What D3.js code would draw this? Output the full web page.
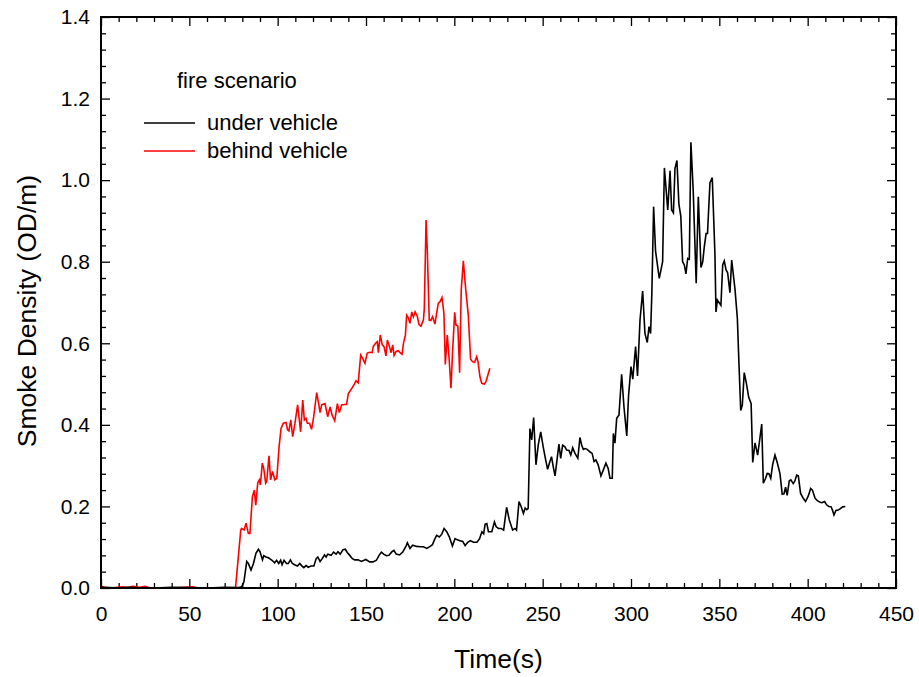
<!DOCTYPE html>
<html>
<head>
<meta charset="utf-8">
<script src="https://cdn.jsdelivr.net/npm/d3@7"></script>
<style>
  html, body { margin: 0; padding: 0; background: #fff; }
  svg { display: block; }
  text { font-family: "Liberation Sans", Arial, sans-serif; fill: #000; }
</style>
</head>
<body>
<svg id="chart" width="919" height="677"></svg>
<script>
// ---------------- data ----------------
const xMajorTicks = [0, 50, 100, 150, 200, 250, 300, 350, 400, 450];
const yMajorTicks = [0.0, 0.2, 0.4, 0.6, 0.8, 1.0, 1.2, 1.4];
const seriesNames = ["under vehicle", "behind vehicle"];
const seriesColors = ["#000000", "#ff0000"];
const legendTitle = "fire scenario";
const xTitle = "Time(s)";
const yTitle = "Smoke Density (OD/m)";

// under vehicle: [time (s), smoke density (OD/m)]
const underVehicle = [
  [0,0.002],[5,0.001],[10,0],[15,0.002],[20,0.001],[30,0],[40,0.002],[50,0.001],[60,0],[70,0.002],[78,0.001],
  [79.6,0.003],[80.9,0.015],[82.5,0.065],[83.4,0.060],[84.9,0.044],[86.3,0.060],[87.7,0.085],[89.1,0.095],
  [90.0,0.089],[91.4,0.069],[92.1,0.079],[93.4,0.076],[94.8,0.074],[96.8,0.068],[98.3,0.062],[99.4,0.068],
  [100.6,0.060],[101.7,0.068],[102.5,0.057],[103.6,0.068],[105.0,0.060],[106.0,0.060],[107.2,0.069],
  [108.3,0.060],[109.6,0.057],[111.2,0.054],[112.5,0.060],[113.5,0.055],[114.8,0.050],[116.1,0.055],
  [117.3,0.051],[118.8,0.054],[120.5,0.054],[121.8,0.072],[122.7,0.076],[124.0,0.065],[125.2,0.072],
  [126.5,0.081],[127.4,0.076],[128.4,0.083],[130.3,0.080],[131.6,0.088],[133.1,0.083],[134.1,0.089],
  [135.4,0.083],[137.0,0.094],[138.3,0.095],[139.4,0.087],[140.8,0.080],[142.3,0.072],[143.6,0.069],
  [145.5,0.069],[147.4,0.065],[149.9,0.070],[152.1,0.064],[154.0,0.064],[155.9,0.068],[157.4,0.080],
  [158.7,0.088],[160.0,0.083],[161.5,0.079],[163.0,0.080],[164.7,0.089],[165.8,0.092],[167.1,0.083],
  [169.0,0.081],[170.9,0.089],[172.8,0.104],[173.4,0.111],[174.9,0.097],[176.4,0.105],[178.7,0.102],
  [180.6,0.101],[182.5,0.101],[184.4,0.097],[186.3,0.102],[187.6,0.106],[188.7,0.118],[190.0,0.129],
  [191.5,0.125],[192.9,0.132],[194.2,0.146],[195.7,0.138],[197.2,0.125],[198.9,0.103],[200.4,0.121],
  [201.7,0.118],[203.2,0.116],[204.8,0.114],[206.1,0.104],[207.6,0.112],[209.0,0.116],[210.9,0.112],
  [212.8,0.112],[214.3,0.121],[215.6,0.138],[216.6,0.133],[217.4,0.156],[218.4,0.158],[219.3,0.138],
  [221.2,0.138],[222.7,0.162],[223.7,0.150],[225.0,0.146],[226.5,0.146],[227.9,0.142],[229.6,0.198],
  [231.1,0.167],[233.0,0.142],[234.3,0.146],[235.2,0.142],[236.6,0.212],[237.8,0.200],[239.1,0.183],
  [240.1,0.196],[241.0,0.192],[241.8,0.195],[242.8,0.391],[243.8,0.363],[244.9,0.418],[246.2,0.302],
  [247.5,0.351],[248.9,0.383],[250.3,0.346],[251.7,0.314],[252.8,0.291],[254.1,0.310],[255.0,0.322],
  [256.0,0.297],[257.0,0.275],[257.9,0.306],[259.2,0.353],[260.2,0.318],[261.3,0.350],[262.6,0.346],
  [263.6,0.338],[264.9,0.337],[265.9,0.326],[267.0,0.344],[268.3,0.330],[269.9,0.318],[271.1,0.369],
  [272.1,0.350],[273.0,0.340],[274.0,0.342],[275.2,0.340],[276.7,0.334],[278.0,0.330],[279.1,0.310],
  [280.1,0.314],[281.4,0.302],[283.0,0.275],[284.3,0.289],[285.8,0.306],[287.1,0.293],[288.1,0.269],
  [289.4,0.269],[290.0,0.379],[290.9,0.355],[291.9,0.416],[293.2,0.424],[294.7,0.524],[296.0,0.445],
  [297.6,0.373],[298.6,0.470],[300.0,0.543],[301.0,0.512],[302.6,0.592],[303.7,0.520],[305.1,0.657],
  [306.6,0.728],[307.9,0.624],[309.2,0.602],[310.2,0.641],[311.1,0.624],[311.8,0.723],[312.8,0.935],
  [313.9,0.826],[316.0,0.759],[317.9,0.800],[318.9,1.030],[320.8,0.927],[322.1,1.023],[323.0,0.927],
  [324.0,0.920],[324.9,1.029],[326.0,1.048],[327.1,0.942],[328.2,0.911],[329.2,0.800],[330.2,0.792],
  [331.1,0.770],[332.1,0.808],[333.0,0.806],[333.9,1.093],[335.2,0.976],[336.9,0.747],[338.1,0.959],
  [339.6,0.786],[340.6,0.800],[341.5,0.837],[342.5,0.869],[343.3,0.869],[344.7,0.994],[346.0,1.006],
  [347.5,0.820],[348.1,0.677],[348.9,0.706],[350.9,0.693],[351.9,0.792],[352.8,0.802],[353.8,0.780],
  [354.7,0.773],[356.0,0.724],[357.0,0.804],[358.9,0.731],[360.2,0.661],[361.1,0.551],[362.1,0.435],
  [363.0,0.448],[364.1,0.528],[365.4,0.500],[366.6,0.468],[368.0,0.452],[368.9,0.308],[370.2,0.356],
  [371.7,0.326],[374.0,0.402],[374.9,0.257],[376.2,0.269],[377.1,0.281],[378.1,0.280],[379.1,0.269],
  [380.2,0.303],[381.5,0.326],[382.8,0.307],[384.3,0.281],[385.6,0.230],[386.6,0.231],[387.5,0.247],
  [388.4,0.227],[389.6,0.263],[390.5,0.265],[391.8,0.256],[392.7,0.262],[393.8,0.277],[394.7,0.275],
  [396.0,0.232],[397.5,0.220],[398.8,0.212],[400.3,0.225],[401.7,0.244],[402.7,0.240],[404.2,0.220],
  [405.5,0.214],[407.1,0.210],[408.1,0.209],[409.6,0.212],[410.7,0.204],[412.0,0.200],[413.3,0.199],
  [414.1,0.190],[414.9,0.179],[416.0,0.190],[417.3,0.191],[418.3,0.194],[419.8,0.199],[421.3,0.200]
];

// behind vehicle: [time (s), smoke density (OD/m)]
const behindVehicle = [
  [0,0.004],[2,0.002],[5,0],[12,0.003],[15,0.001],[18,0.004],[22,0.002],[25,0.004],[28,0],[40,0],
  [52,0.003],[55,0],[70,0],[75.5,0],
  [76.2,0.003],[79.1,0.142],[79.6,0.146],[81.0,0.142],[82.1,0.159],[83.4,0.134],[84.3,0.134],[85.7,0.224],
  [86.8,0.240],[87.6,0.203],[88.7,0.257],[89.6,0.265],[90.2,0.253],[91.3,0.306],[92.1,0.294],[93.2,0.257],
  [93.8,0.261],[95.1,0.324],[96.0,0.265],[97.1,0.286],[98.4,0.265],[99.5,0.269],[100.8,0.346],[101.9,0.391],
  [103.2,0.404],[104.7,0.406],[105.6,0.388],[106.4,0.385],[107.4,0.412],[108.5,0.371],[109.8,0.404],
  [111.3,0.449],[113.0,0.383],[114.2,0.461],[115.1,0.412],[116.0,0.416],[116.8,0.404],[118.0,0.404],
  [119.2,0.389],[120.4,0.420],[122.1,0.479],[123.2,0.452],[124.0,0.430],[124.9,0.449],[126.8,0.452],
  [128.3,0.420],[129.7,0.444],[130.8,0.424],[132.3,0.410],[133.8,0.452],[134.9,0.430],[136.2,0.449],
  [137.7,0.450],[139.0,0.450],[140.0,0.477],[141.9,0.489],[143.4,0.500],[144.3,0.508],[145.6,0.503],
  [147.0,0.571],[148.1,0.563],[149.4,0.551],[150.7,0.576],[152.2,0.578],[153.5,0.577],[154.1,0.592],
  [155.4,0.600],[156.4,0.604],[157.0,0.577],[158.1,0.620],[159.2,0.596],[160.2,0.592],[161.3,0.569],
  [162.1,0.608],[163.2,0.593],[164.2,0.577],[165.1,0.596],[165.9,0.570],[167.0,0.580],[168.3,0.582],
  [169.3,0.577],[170.4,0.573],[171.2,0.600],[172.3,0.620],[173.0,0.669],[173.9,0.663],[174.9,0.649],
  [175.9,0.677],[176.8,0.665],[177.8,0.677],[179.1,0.665],[180.0,0.646],[181.1,0.642],[182.5,0.657],
  [183.0,0.685],[184.0,0.902],[184.7,0.828],[185.8,0.657],[186.7,0.656],[187.7,0.665],[189.0,0.647],
  [190.0,0.674],[190.9,0.698],[191.9,0.702],[193.0,0.712],[194.1,0.674],[194.9,0.548],[196.0,0.620],
  [197.1,0.559],[198.1,0.490],[199.0,0.579],[200.2,0.676],[200.9,0.645],[202.0,0.642],[203.0,0.528],
  [203.9,0.731],[205.1,0.802],[206.4,0.734],[207.9,0.669],[209.2,0.561],[210.3,0.555],[211.5,0.553],
  [212.6,0.567],[213.4,0.555],[214.5,0.518],[215.5,0.502],[217.0,0.500],[217.9,0.506],[220.1,0.539]
];

// ---------------- layout ----------------
const svg = d3.select("#chart");
const plot = { left: 101, right: 896, top: 17, bottom: 588 };

const x = d3.scaleLinear().domain([0, 450]).range([plot.left, plot.right]);
const y = d3.scaleLinear().domain([0, 1.4]).range([plot.bottom, plot.top]);

const xMinor = d3.range(0, 451, 10).filter(v => v % 50 !== 0);
const yMinor = d3.range(0, 71, 2).map(v => v / 50).filter((v, i) => i % 5 !== 0);

function styleAxis(g) {
  g.select(".domain").remove();
  g.selectAll(".tick line").attr("stroke", "#000").attr("stroke-width", 1.3);
}
function styleLabels(g) {
  g.selectAll("text").attr("font-size", 21)
    .attr("font-family", "Liberation Sans, Arial, sans-serif").attr("fill", "#000");
}

// bottom axis
svg.append("g").attr("transform", `translate(0,${plot.bottom})`)
  .call(d3.axisBottom(x).tickValues(xMajorTicks).tickSizeInner(-9).tickSizeOuter(0).tickPadding(18)
        .tickFormat(d3.format("d")))
  .call(styleAxis).call(styleLabels);
svg.append("g").attr("transform", `translate(0,${plot.bottom})`)
  .call(d3.axisBottom(x).tickValues(xMinor).tickSizeInner(-5).tickSizeOuter(0).tickFormat(""))
  .call(styleAxis);
// top axis
svg.append("g").attr("transform", `translate(0,${plot.top})`)
  .call(d3.axisTop(x).tickValues(xMajorTicks).tickSizeInner(-9).tickSizeOuter(0).tickFormat(""))
  .call(styleAxis);
svg.append("g").attr("transform", `translate(0,${plot.top})`)
  .call(d3.axisTop(x).tickValues(xMinor).tickSizeInner(-5).tickSizeOuter(0).tickFormat(""))
  .call(styleAxis);
// left axis
svg.append("g").attr("transform", `translate(${plot.left},0)`)
  .call(d3.axisLeft(y).tickValues(yMajorTicks).tickSizeInner(-9).tickSizeOuter(0).tickPadding(11)
        .tickFormat(d3.format(".1f")))
  .call(styleAxis).call(styleLabels);
svg.append("g").attr("transform", `translate(${plot.left},0)`)
  .call(d3.axisLeft(y).tickValues(yMinor).tickSizeInner(-5).tickSizeOuter(0).tickFormat(""))
  .call(styleAxis);
// right axis
svg.append("g").attr("transform", `translate(${plot.right},0)`)
  .call(d3.axisRight(y).tickValues(yMajorTicks).tickSizeInner(-9).tickSizeOuter(0).tickFormat(""))
  .call(styleAxis);
svg.append("g").attr("transform", `translate(${plot.right},0)`)
  .call(d3.axisRight(y).tickValues(yMinor).tickSizeInner(-5).tickSizeOuter(0).tickFormat(""))
  .call(styleAxis);

// data lines
const line = d3.line().x(d => x(d[0])).y(d => y(d[1]));

svg.append("path").datum(behindVehicle)
  .attr("d", line).attr("fill", "none").attr("stroke", seriesColors[1])
  .attr("stroke-width", 1.6).attr("stroke-linejoin", "miter");
svg.append("path").datum(underVehicle)
  .attr("d", line).attr("fill", "none").attr("stroke", seriesColors[0])
  .attr("stroke-width", 1.6).attr("stroke-linejoin", "miter");

// frame
svg.append("rect")
  .attr("x", plot.left).attr("y", plot.top)
  .attr("width", plot.right - plot.left).attr("height", plot.bottom - plot.top)
  .attr("fill", "none").attr("stroke", "#000").attr("stroke-width", 2);

// axis titles
svg.append("text").attr("x", (plot.left + plot.right) / 2).attr("y", 668)
  .attr("text-anchor", "middle").attr("font-size", 26.5).text(xTitle);
svg.append("text").attr("transform", "translate(36,311) rotate(-90)")
  .attr("text-anchor", "middle").attr("font-size", 26.5).text(yTitle);

// legend
const legend = svg.append("g");
legend.append("text").attr("x", 177).attr("y", 88).attr("font-size", 22).text(legendTitle);
seriesNames.forEach((name, i) => {
  const ly = 123 + i * 28;
  legend.append("line").attr("x1", 144).attr("x2", 195).attr("y1", ly).attr("y2", ly)
    .attr("stroke", seriesColors[i]).attr("stroke-width", 1.6);
  legend.append("text").attr("x", 207).attr("y", ly + 7).attr("font-size", 22).text(name);
});
</script>
</body>
</html>
